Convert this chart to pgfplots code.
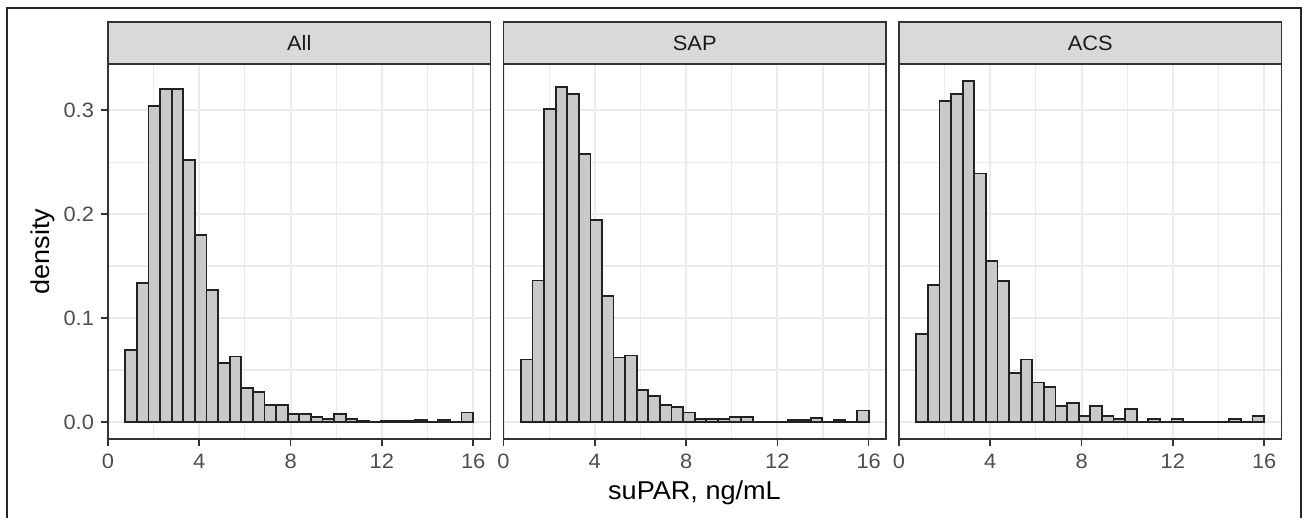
\documentclass[border=0pt]{standalone}
\usepackage{fontspec}
\setmainfont{Liberation Sans}[FakeStretch=1.05]
\usepackage{pgfplots}
\usepackage{pgfplotstable}
\pgfplotsset{compat=1.18}
\definecolor{gridcol}{HTML}{EBEBEB}
\definecolor{border}{HTML}{333333}
\definecolor{stripcol}{HTML}{D9D9D9}
\definecolor{barfill}{HTML}{C8C9CB}
\definecolor{barline}{HTML}{222222}
\definecolor{ticktext}{HTML}{4D4D4D}
\definecolor{striptext}{HTML}{1A1A1A}

% bin left edges (width 0.508) and density; last row closes the final bin
\pgfplotstableread{
x y
0.760 0.069
1.268 0.134
1.776 0.304
2.284 0.320
2.792 0.320
3.300 0.252
3.808 0.180
4.316 0.127
4.824 0.057
5.332 0.063
5.840 0.033
6.348 0.029
6.856 0.016
7.364 0.016
7.872 0.008
8.380 0.008
8.888 0.0045
9.396 0.0032
9.904 0.008
10.412 0.0032
10.920 0.0013
11.428 0
11.936 0.0013
12.444 0.0013
12.952 0.0013
13.460 0.0022
13.968 0
14.476 0.0022
14.984 0
15.492 0.009
16.000 0
}\allt

\pgfplotstableread{
x y
0.760 0.060
1.268 0.136
1.776 0.301
2.284 0.3225
2.792 0.3155
3.300 0.258
3.808 0.194
4.316 0.121
4.824 0.062
5.332 0.064
5.840 0.031
6.348 0.025
6.856 0.016
7.364 0.014
7.872 0.009
8.380 0.0032
8.888 0.0032
9.396 0.0032
9.904 0.0051
10.412 0.0051
10.920 0
11.428 0
11.936 0
12.444 0.0019
12.952 0.0019
13.460 0.0035
13.968 0
14.476 0.0019
14.984 0
15.492 0.011
16.000 0
}\sapt

\pgfplotstableread{
x y
0.760 0.085
1.268 0.132
1.776 0.309
2.284 0.3155
2.792 0.328
3.300 0.239
3.808 0.1545
4.316 0.1356
4.824 0.047
5.332 0.060
5.840 0.038
6.348 0.034
6.856 0.0154
7.364 0.0186
7.872 0.0058
8.380 0.0154
8.888 0.0058
9.396 0.0026
9.904 0.0122
10.412 0
10.920 0.0026
11.428 0
11.936 0.0026
12.444 0
12.952 0
13.460 0
13.968 0
14.476 0.0026
14.984 0
15.492 0.0058
16.000 0
}\acst

\pgfplotsset{
  facet/.style={
    scale only axis, anchor=south west,
    width=191.25pt, height=187.5pt,
    xmin=0, xmax=16.76, ymin=-0.0164, ymax=0.3444,
    xtick={0,4,8,12,16}, xticklabels={0,4,8,12,16},
    ytick={0,0.1,0.2,0.3}, yticklabels={0.0,0.1,0.2,0.3},
    minor xtick={2,6,10,14}, minor ytick={0.05,0.15,0.25},
    grid=both,
    major grid style={draw=gridcol, line width=1pt},
    minor grid style={draw=gridcol, line width=0.55pt},
    axis line style={draw=border, line width=0.8pt},
    tick align=outside, tick pos=left,
    major tick length=3.5pt, minor tick length=0pt,
    tick style={draw=border, line width=0.8pt},
    ticklabel style={font=\fontsize{10.4}{12}\selectfont, text=ticktext},
    xticklabel style={yshift=-0.5pt},
  },
  bars/.style={ybar interval, fill=barfill, draw=barline, line width=0.9pt},
}

\begin{document}
\begin{tikzpicture}
\useasboundingbox (0,0) rectangle (651.5pt,259pt);
\draw[line width=0.7pt, draw=black!85] (3.5pt,-2pt) -- (3.5pt,255pt) -- (650.5pt,255pt) -- (650.5pt,-2pt);

\begin{axis}[facet, at={(54pt,39.5pt)}]
\addplot[bars] table[x=x,y=y] {\allt};
\end{axis}

\begin{axis}[facet, at={(251.75pt,39.5pt)}, yticklabels={}, ytick style={draw=none}]
\addplot[bars] table[x=x,y=y] {\sapt};
\end{axis}

\begin{axis}[facet, at={(449.5pt,39.5pt)}, yticklabels={}, ytick style={draw=none}]
\addplot[bars] table[x=x,y=y] {\acst};
\end{axis}

% facet strips
\foreach \l/\lab in {54/All, 251.75/SAP, 449.5/ACS}{
  \draw[fill=stripcol, draw=border, line width=0.8pt] (\l pt,227pt) rectangle ({\l pt+191.25pt},248pt);
  \node[font=\fontsize{10.4}{12}\selectfont, text=striptext] at ({\l pt+95.625pt},237.5pt) {\lab};
}

\node[rotate=90, font=\fontsize{12.9}{15}\selectfont] at (21.25pt,133.25pt) {density};
\node[anchor=base, font=\fontsize{12.9}{15}\selectfont] at (347.25pt,9pt) {suPAR, ng/mL};
\end{tikzpicture}
\end{document}
